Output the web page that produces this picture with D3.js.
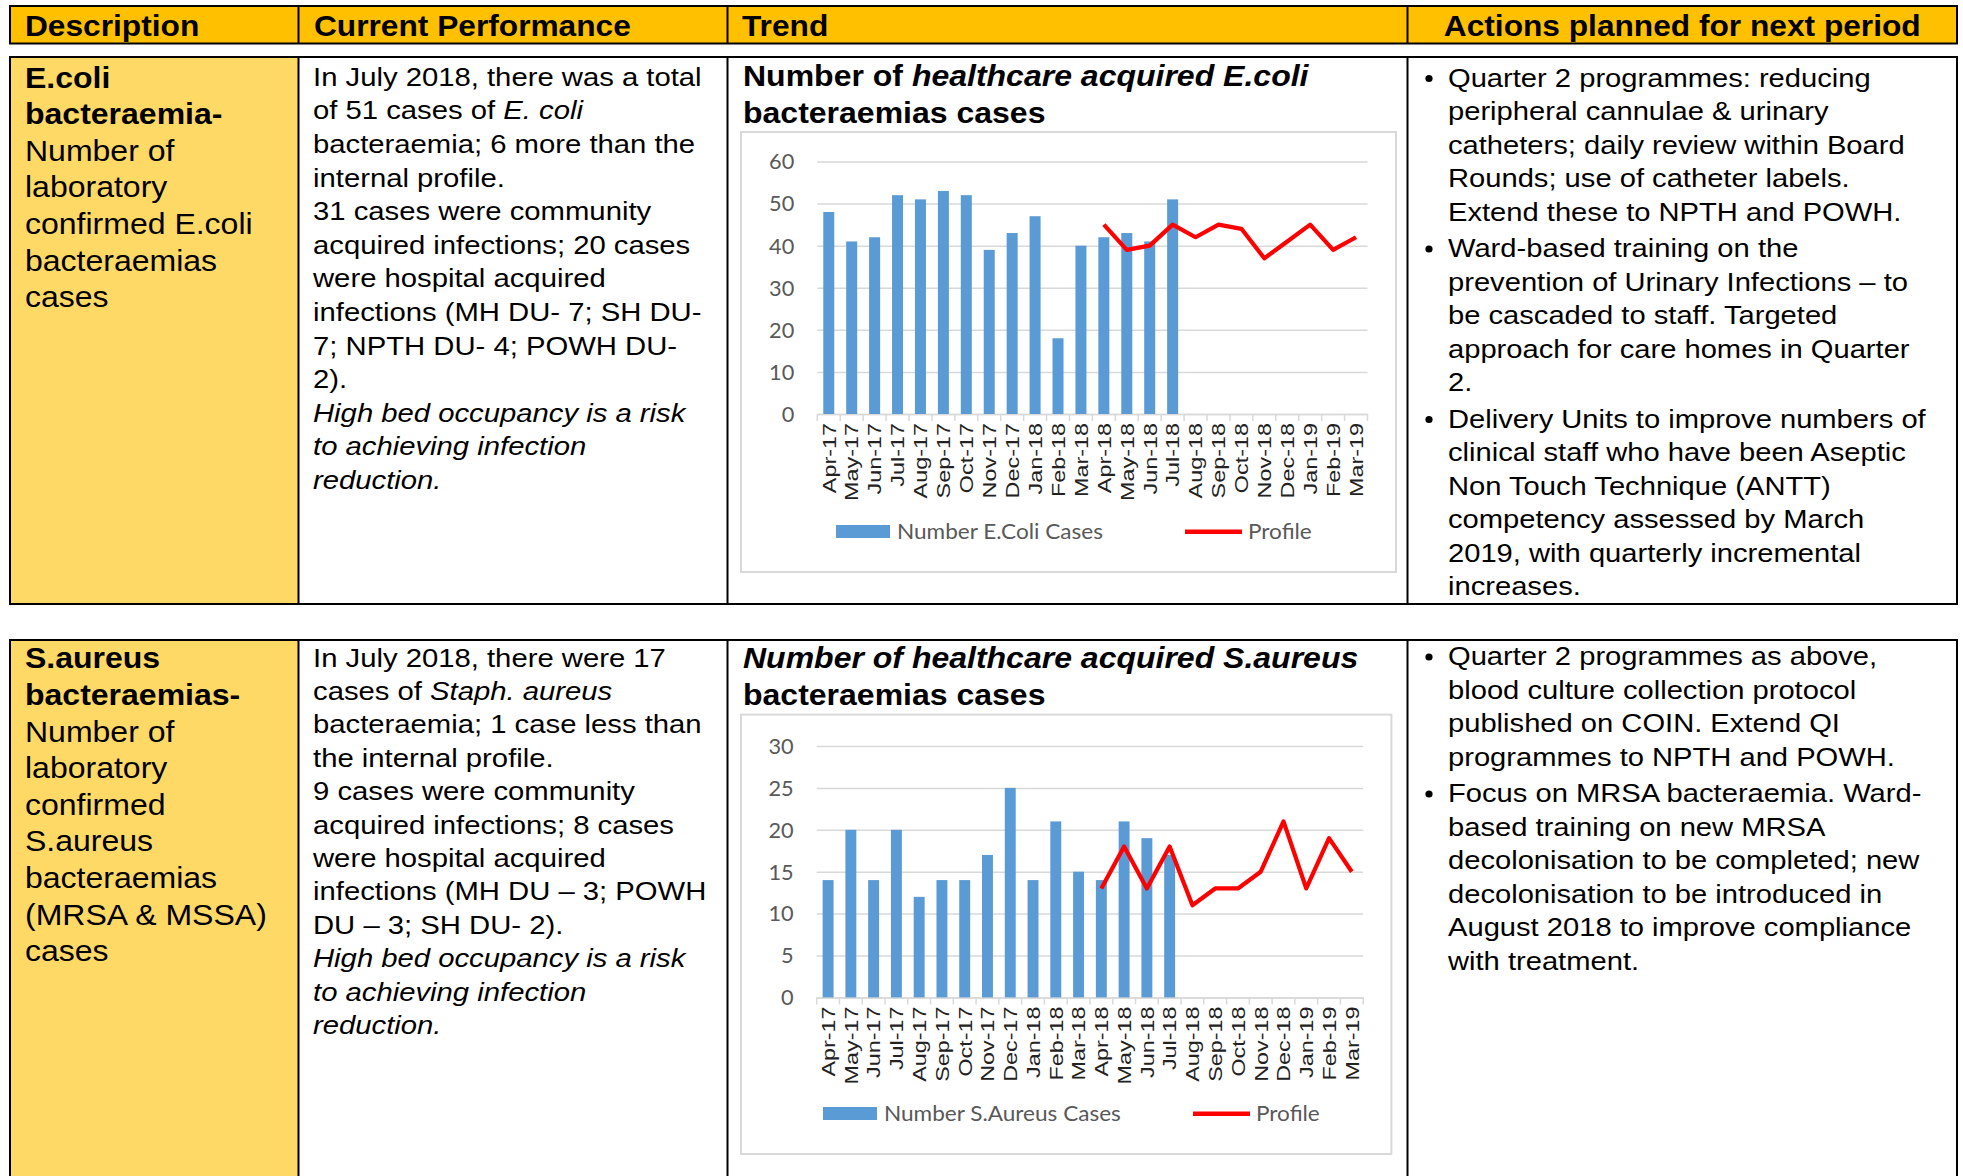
<!DOCTYPE html>
<html>
<head>
<meta charset="utf-8">
<script src="https://cdnjs.cloudflare.com/ajax/libs/d3/7.8.5/d3.min.js"></script>
<style>
  body { margin: 0; background: #fff; }
  svg { display: block; }
  text { white-space: pre; }
</style>
</head>
<body>
<svg></svg>
<script>
    /* chart data */
    let months = ["Apr-17","May-17","Jun-17","Jul-17","Aug-17","Sep-17","Oct-17","Nov-17","Dec-17","Jan-18","Feb-18","Mar-18",
                  "Apr-18","May-18","Jun-18","Jul-18","Aug-18","Sep-18","Oct-18","Nov-18","Dec-18","Jan-19","Feb-19","Mar-19"];
    let profileMonths = months.slice(12);
    let ecoliCases = [48, 41, 42, 52, 51, 53, 52, 39, 43, 47, 18, 40, 42, 43, 41, 51];
    let ecoliProfile = [45, 39, 40, 45, 42, 45, 44, 37, 41, 45, 39, 42];
    let saureusCases = [14, 20, 14, 20, 12, 14, 14, 17, 25, 14, 21, 15, 14, 21, 19, 17];
    let saureusProfile = [13, 18, 13, 18, 11, 13, 13, 15, 21, 13, 19, 15];
    let ecoliTicks = [0, 10, 20, 30, 40, 50, 60];
    let saureusTicks = [0, 5, 10, 15, 20, 25, 30];

    /* table text ( *...* = italic ) */
    let headers = ["Description", "Current Performance", "Trend", "Actions planned for next period"];
    let ecoliDesc = ["E.coli", "bacteraemia-", "Number of", "laboratory", "confirmed E.coli", "bacteraemias", "cases"];
    let ecoliPerf = ["In July 2018, there was a total", "of 51 cases of *E. coli*", "bacteraemia; 6 more than the",
        "internal profile.", "31 cases were community", "acquired infections; 20 cases", "were hospital acquired",
        "infections (MH DU- 7; SH DU-", "7; NPTH DU- 4; POWH DU-", "2).", "*High bed occupancy is a risk*",
        "*to achieving infection*", "*reduction.*"];
    let ecoliActions = [
        ["Quarter 2 programmes: reducing", "peripheral cannulae & urinary", "catheters; daily review within Board",
         "Rounds; use of catheter labels.", "Extend these to NPTH and POWH."],
        ["Ward-based training on the", "prevention of Urinary Infections \u2013 to", "be cascaded to staff. Targeted",
         "approach for care homes in Quarter", "2."],
        ["Delivery Units to improve numbers of", "clinical staff who have been Aseptic", "Non Touch Technique (ANTT)",
         "competency assessed by March", "2019, with quarterly incremental", "increases."]
    ];
    let saureusDesc = ["S.aureus", "bacteraemias-", "Number of", "laboratory", "confirmed", "S.aureus", "bacteraemias",
        "(MRSA & MSSA)", "cases"];
    let saureusPerf = ["In July 2018, there were 17", "cases of *Staph. aureus*", "bacteraemia; 1 case less than",
        "the internal profile.", "9 cases were community", "acquired infections; 8 cases", "were hospital acquired",
        "infections (MH DU \u2013 3; POWH", "DU \u2013 3; SH DU- 2).", "*High bed occupancy is a risk*",
        "*to achieving infection*", "*reduction.*"];
    let saureusActions = [
        ["Quarter 2 programmes as above,", "blood culture collection protocol", "published on COIN. Extend QI",
         "programmes to NPTH and POWH."],
        ["Focus on MRSA bacteraemia. Ward-", "based training on new MRSA", "decolonisation to be completed; new",
         "decolonisation to be introduced in", "August 2018 to improve compliance", "with treatment."]
    ];

    /* layout */
    let width = 1963;
    let height = 1176;
    let cols = [10, 298.5, 727.5, 1407.5, 1957];
    let rows = [{top: 57, bottom: 604}, {top: 640, bottom: 1200}];
    let TX = 1.1;      // text in the picture is a bit wider than plain Arial
    let arial = "'Liberation Sans', Arial, sans-serif";
    let calibri = "Lato, 'Open Sans', sans-serif";

    const svg = d3.select("svg").attr("width", width).attr("height", height)

    const addLines = (g, lines, o) => {
        lines.forEach((line, i) => {
            let t = g.append("text")
                .attr("transform", "translate(" + o.x + "," + (o.y + i * o.step) + ") scale(" + (o.sx || TX) + ",1)")
                .attr("text-anchor", o.anchor || "start")
                .style("font-family", o.family || arial)
                .style("font-size", o.size + "px")
                .style("font-weight", (o.bold === true || i < (o.bold || 0)) ? "bold" : "normal")
                .attr("fill", o.fill || "#000")
            line.split("*").forEach((part, k) => {
                if (part === "") return
                t.append("tspan").text(part).style("font-style", k % 2 ? "italic" : "normal")
            })
        })
    }

    const addBullets = (items, y0) => {
        let y = y0
        items.forEach(item => {
            svg.append("circle").attr("cx", 1429).attr("cy", y - 8).attr("r", 3.6).attr("fill", "#000")
            addLines(svg, item, {x: 1448, y: y, step: 33.5, size: 26.5})
            y += item.length * 33.5 + 3
        })
    }

    const drawTable = () => {
        svg.append("rect").attr("x", cols[0]).attr("y", 6).attr("width", cols[4] - cols[0]).attr("height", 37.5)
            .attr("fill", "#FFC000").attr("stroke", "#000").attr("stroke-width", 2)
        rows.forEach(r => {
            svg.append("rect").attr("x", cols[0]).attr("y", r.top).attr("width", cols[1] - cols[0])
                .attr("height", r.bottom - r.top).attr("fill", "#FFD966")
            svg.append("rect").attr("x", cols[0]).attr("y", r.top).attr("width", cols[4] - cols[0])
                .attr("height", r.bottom - r.top).attr("fill", "none").attr("stroke", "#000").attr("stroke-width", 2)
        })
        let bands = [{top: 6, bottom: 43.5}].concat(rows)
        bands.forEach(r => {
            cols.slice(1, 4).forEach(cx => {
                svg.append("line").attr("x1", cx).attr("x2", cx).attr("y1", r.top).attr("y2", r.bottom)
                    .attr("stroke", "#000").attr("stroke-width", 2)
            })
        })
        let hx = [25, 314, 742, (cols[3] + cols[4]) / 2]
        headers.forEach((h, i) => {
            addLines(svg, [h], {x: hx[i], y: 36, step: 0, size: 28.8, bold: true, anchor: i === 3 ? "middle" : "start"})
        })
    }

    const drawChart = (c) => {
        let g = svg.append("g")
        g.append("rect").attr("x", c.box[0]).attr("y", c.box[1]).attr("width", c.box[2] - c.box[0])
            .attr("height", c.box[3] - c.box[1]).attr("fill", "#fff").attr("stroke", "#d9d9d9").attr("stroke-width", 2)

        addLines(g, c.title, {x: 743, y: c.titleY, step: 37.2, size: 29.1, bold: true})

        let x = d3.scaleBand().domain(months).range([c.left, c.right])
        let y = d3.scaleLinear().domain([0, c.max]).range([c.bottom, c.top])
        let bw = x.bandwidth()

        // gridlines + y labels
        g.append("g").attr("transform", "translate(" + c.left + ",0)")
            .call(d3.axisLeft(y).tickValues(c.ticks).tickSize(-(c.right - c.left)))
            .call(a => a.select(".domain").remove())
            .call(a => a.selectAll("line").attr("stroke", "#d9d9d9").attr("stroke-width", 1.5))
            .call(a => a.selectAll("text").attr("x", null).attr("dy", "0.36em")
                .attr("transform", "translate(-23,0) scale(1.06,1)")
                .attr("fill", "#595959").style("font-family", calibri).style("font-size", "20.5px"))

        // x axis with labels at centres
        let xa = g.append("g").attr("transform", "translate(0," + c.bottom + ")")
            .call(d3.axisBottom(x).tickSize(0).tickSizeOuter(0).tickPadding(0))
        xa.select(".domain").attr("stroke", "#d9d9d9").attr("stroke-width", 1.5)
        xa.selectAll("text").attr("y", null).attr("dy", null).attr("text-anchor", "end")
            .attr("transform", "translate(6.8,9) rotate(-90) scale(1.3,1)")
            .attr("fill", "#222").style("font-family", arial).style("font-size", "18px")

        // category boundary ticks
        let edges = months.map(m => x(m)).concat([x.range()[1]])
        g.selectAll(".edge").data(edges).enter().append("line")
            .attr("x1", d => d).attr("x2", d => d).attr("y1", c.bottom).attr("y2", c.bottom + 7)
            .attr("stroke", "#d9d9d9").attr("stroke-width", 1.5)

        // bars
        let barW = bw * 0.48
        g.selectAll(".bar").data(c.cases).enter().append("rect")
            .attr("x", (d, i) => x(months[i]) + (bw - barW) / 2)
            .attr("y", d => y(d))
            .attr("width", barW)
            .attr("height", d => c.bottom - y(d))
            .attr("fill", "#5B9BD5")

        // profile line
        let line = d3.line().x((d, i) => x(profileMonths[i]) + bw / 2).y(d => y(d))
        g.append("path").datum(c.profile).attr("d", line).attr("fill", "none")
            .attr("stroke", "#FF0000").attr("stroke-width", 4.2).attr("stroke-linejoin", "round")

        // legend
        let L = c.legend
        g.append("rect").attr("x", L.sx).attr("y", L.sy).attr("width", 54).attr("height", 13).attr("fill", "#5B9BD5")
        addLines(g, [c.name], {x: L.tx, y: L.sy + 14, step: 0, size: 21.5, family: calibri, fill: "#595959", sx: 1.05})
        g.append("line").attr("x1", L.lx).attr("x2", L.lx + 57).attr("y1", L.sy + 6.7).attr("y2", L.sy + 6.7)
            .attr("stroke", "#FF0000").attr("stroke-width", 4.5)
        addLines(g, ["Profile"], {x: L.lx + 63, y: L.sy + 14, step: 0, size: 21.5, family: calibri, fill: "#595959", sx: 1.05})
    }

    drawTable()

    addLines(svg, ecoliDesc, {x: 25, y: 87.5, step: 36.6, size: 29.1, bold: 2})
    addLines(svg, ecoliPerf, {x: 313, y: 85.7, step: 33.6, size: 26.6})
    addBullets(ecoliActions, 86.5)

    addLines(svg, saureusDesc, {x: 25, y: 668.3, step: 36.6, size: 29.1, bold: 2})
    addLines(svg, saureusPerf, {x: 313, y: 666.6, step: 33.4, size: 26.6})
    addBullets(saureusActions, 665)

    drawChart({
        name: "Number E.Coli Cases", cases: ecoliCases, profile: ecoliProfile, ticks: ecoliTicks, max: 60,
        left: 817.3, right: 1367.5, top: 161.5, bottom: 414,
        box: [741, 132, 1396, 572],
        title: ["Number of *healthcare acquired E.coli*", "bacteraemias cases"], titleY: 85.5,
        legend: {sx: 836, sy: 525, tx: 897, lx: 1185}
    })
    drawChart({
        name: "Number S.Aureus Cases", cases: saureusCases, profile: saureusProfile, ticks: saureusTicks, max: 30,
        left: 816.7, right: 1363.2, top: 746, bottom: 997.4,
        box: [741, 714.6, 1391.4, 1154],
        title: ["*Number of healthcare acquired S.aureus*", "bacteraemias cases"], titleY: 667.6,
        legend: {sx: 823, sy: 1107, tx: 884, lx: 1193}
    })
</script>
</body>
</html>
